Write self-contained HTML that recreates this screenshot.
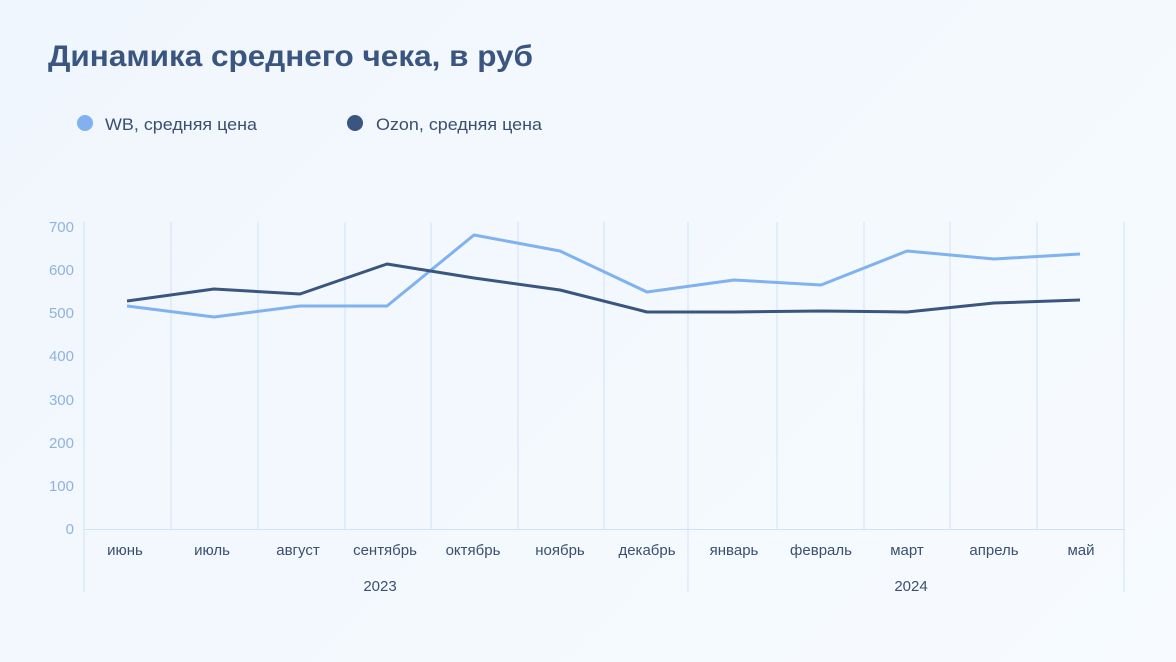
<!DOCTYPE html>
<html><head><meta charset="utf-8"><style>
html,body{margin:0;padding:0;}
body{width:1176px;height:662px;background:linear-gradient(135deg,#f0f6fd 0%,#f4f9fe 60%,#f7fbff 100%);font-family:"Liberation Sans",sans-serif;overflow:hidden;}
</style></head><body>
<svg width="1176" height="662" xmlns="http://www.w3.org/2000/svg" style="position:absolute;left:0;top:0">
<text x="48" y="66" font-family="Liberation Sans, sans-serif" font-weight="bold" font-size="30" fill="#3a5680" textLength="485" lengthAdjust="spacingAndGlyphs">Динамика среднего чека, в руб</text>
<circle cx="85" cy="123" r="8" fill="#7fb2ef"/>
<text x="105" y="130" font-size="17" fill="#3a4f70" textLength="152" lengthAdjust="spacingAndGlyphs">WB, средняя цена</text>
<circle cx="355" cy="123" r="8" fill="#3a5680"/>
<text x="376" y="130" font-size="17" fill="#3a4f70" textLength="166" lengthAdjust="spacingAndGlyphs">Ozon, средняя цена</text>
<g stroke="#cfe2f7" stroke-width="1">
<line x1="84" y1="222" x2="84" y2="592"/>
<line x1="171" y1="222" x2="171" y2="529"/>
<line x1="258" y1="222" x2="258" y2="529"/>
<line x1="345" y1="222" x2="345" y2="529"/>
<line x1="431" y1="222" x2="431" y2="529"/>
<line x1="518" y1="222" x2="518" y2="529"/>
<line x1="604" y1="222" x2="604" y2="529"/>
<line x1="688" y1="222" x2="688" y2="592"/>
<line x1="777" y1="222" x2="777" y2="529"/>
<line x1="864" y1="222" x2="864" y2="529"/>
<line x1="950" y1="222" x2="950" y2="529"/>
<line x1="1037" y1="222" x2="1037" y2="529"/>
<line x1="1124" y1="222" x2="1124" y2="592"/>
<line x1="84" y1="529.5" x2="1124" y2="529.5"/>
</g>
<g font-size="15" fill="#8fb3df" text-anchor="end">
<text x="74" y="232">700</text><text x="74" y="275">600</text><text x="74" y="318">500</text><text x="74" y="361">400</text><text x="74" y="405">300</text><text x="74" y="448">200</text><text x="74" y="491">100</text><text x="74" y="534">0</text>
</g>
<g font-size="15" fill="#3a4f70" text-anchor="middle">
<text x="125" y="555">июнь</text><text x="212" y="555">июль</text><text x="298" y="555">август</text><text x="385" y="555">сентябрь</text><text x="473" y="555">октябрь</text><text x="560" y="555">ноябрь</text><text x="647" y="555">декабрь</text><text x="734" y="555">январь</text><text x="821" y="555">февраль</text><text x="907" y="555">март</text><text x="994" y="555">апрель</text><text x="1081" y="555">май</text>
<text x="380" y="591">2023</text><text x="911" y="591">2024</text>
</g>
<polyline fill="none" stroke="#7fb2ef" stroke-width="3" stroke-linejoin="round" points="127,306 214,317 300,306 387,306 474,235 560,251 647,292 734,280 821,285 907,251 994,259 1080,254"/>
<polyline fill="none" stroke="#3a5680" stroke-width="3" stroke-linejoin="round" points="127,301 214,289 300,294 387,264 474,278 560,290 647,312 734,312 821,311 907,312 994,303 1080,300"/>
</svg>
</body></html>
